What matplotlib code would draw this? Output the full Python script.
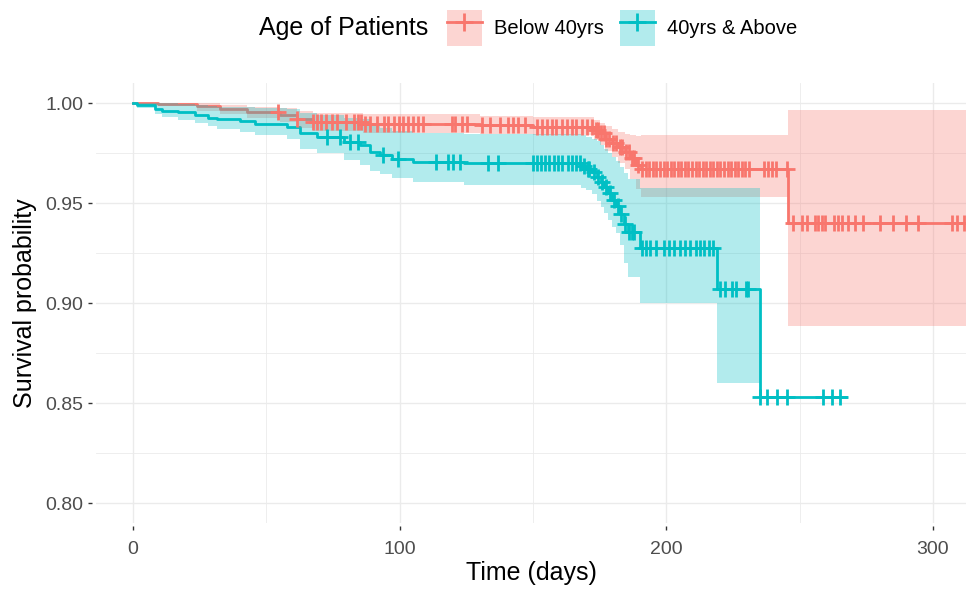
import numpy as np
import matplotlib
matplotlib.use("Agg")
import matplotlib.pyplot as plt
from matplotlib.patches import Patch
from matplotlib.lines import Line2D
from matplotlib.legend_handler import HandlerTuple

plt.rcParams['font.family'] = ['Liberation Sans', 'DejaVu Sans']

# ---- data (Kaplan-Meier steps) ----
# Below 40yrs
red_t = [0, 9.4, 23.9, 32.6, 42.6, 55, 61.4, 67.6, 86.3, 130, 150, 173, 175, 177,
         179.5, 182, 184.5, 186.5, 188.5, 190.5, 245.7]
red_s = [1.0, 0.9996, 0.9983, 0.9971, 0.9954, 0.9939, 0.9921, 0.9905, 0.9897, 0.9890,
         0.9882, 0.9866, 0.9848, 0.9822, 0.9800, 0.9778, 0.9755, 0.9725, 0.9690, 0.9672, 0.9400]
red_up = [1.0, 1.0, 0.9998, 0.9992, 0.9982, 0.9975, 0.9960, 0.9952, 0.9946, 0.9935,
          0.9932, 0.9915, 0.9900, 0.9885, 0.9870, 0.9855, 0.9845, 0.9840, 0.9835, 0.9838, 0.9965]
red_lo = [1.0, 0.9985, 0.9962, 0.9945, 0.9925, 0.9905, 0.9875, 0.9858, 0.9850, 0.9845,
          0.9838, 0.9815, 0.9790, 0.9760, 0.9730, 0.9700, 0.9670, 0.9620, 0.9570, 0.9530, 0.8887]
red_end = 320
red_cens = [54.4, 61.4, 67.6, 68.9, 70.6, 72.5, 74.6, 76.6, 80, 83, 84.4, 85.6, 86.9, 88.9,
            91.4, 94, 95.6, 98, 99.9, 101.3, 103.2, 105, 106.9, 108.8, 119.5, 120.7, 123.2,
            125.1, 130.8, 133.9, 137.6, 140.7, 142.6, 144.5, 147, 151.4, 153.2, 155.1, 157,
            158.8, 160.7, 162.6, 164.5, 166.3, 168.2, 170.1, 172, 173.5, 174.5, 175.5, 176.5,
            177.5, 178.5, 180, 181, 182.5, 183.5, 185, 186, 187, 188, 189.5,
            191, 192.3, 193.6, 195, 196.3, 197.6, 199, 200.3, 201.6, 203, 204.3, 205.6, 207,
            208.3, 209.6, 211, 212.3, 213.6, 215, 216.3, 217.6, 219, 220.3, 221.6, 223, 224.3,
            225.6, 227, 228.3, 229.6, 231, 236.5, 238, 239.5, 241,
            245.2, 247.5, 251, 252.7, 255.7, 256.8, 258.4, 259.5, 263, 264.3, 266, 268, 270.7,
            273.7, 280, 285, 290, 294.4, 307, 309, 311.5]

# 40yrs & Above
teal_t = [0, 1.4, 8.2, 10.8, 17, 23.2, 28.2, 31.4, 40, 45.7, 57.6, 62.6, 69, 79, 85, 89,
          92.6, 97, 105, 124, 168, 170, 172, 174, 175.5, 176.5, 178, 179.5, 181, 182.5, 184,
          185.5, 190, 219, 235]
teal_s = [1.0, 0.9992, 0.9971, 0.9962, 0.9954, 0.9941, 0.9926, 0.9918, 0.9908, 0.9896,
          0.9879, 0.9849, 0.9830, 0.9805, 0.9788, 0.9756, 0.9738, 0.9718, 0.9706, 0.9698,
          0.9685, 0.9672, 0.9655, 0.9632, 0.9605, 0.9580, 0.9548, 0.9515, 0.9485, 0.9445,
          0.9395, 0.9355, 0.9273, 0.9068, 0.8528]
# band stops at the last drop (235 days)
teal_up = [1.0, 1.0, 1.0, 0.9998, 0.9995, 0.999, 0.9985, 0.9982, 0.998, 0.9975, 0.997,
           0.995, 0.994, 0.9925, 0.992, 0.989, 0.9875, 0.986, 0.9852, 0.9845, 0.984, 0.9832,
           0.982, 0.981, 0.979, 0.977, 0.975, 0.973, 0.971, 0.968, 0.965, 0.962, 0.9575, 0.9575]
teal_lo = [1.0, 0.9975, 0.9945, 0.993, 0.9915, 0.990, 0.9885, 0.9868, 0.9854, 0.984, 0.982,
           0.977, 0.975, 0.9715, 0.969, 0.966, 0.9645, 0.9625, 0.9605, 0.9588, 0.9575, 0.9565,
           0.9545, 0.951, 0.948, 0.945, 0.9415, 0.938, 0.935, 0.929, 0.920, 0.913, 0.900, 0.860]
teal_end = 267.5
teal_cens = [72.6, 77.6, 81.4, 84.4, 93.7, 99.4, 113.8, 118, 120, 122.6, 133, 137,
             150, 151.5, 153, 154.5, 156, 158, 159.5, 161, 163, 164.5, 166, 167.5, 169,
             170.5, 171, 173, 174.5, 176, 177.5, 179, 180.5, 182, 183, 184.5, 186, 187, 188,
             191, 192.5, 194, 196, 199, 201, 203, 205, 207, 209, 211, 212.5, 214, 216, 217.5,
             220, 222, 224.5, 226.3, 229.7, 230.6,
             235.2, 237.6, 241.4, 245.1, 258.7, 262, 265]

groups = ["Below 40yrs", "40yrs & Above"]
colors = ["#F8766D", "#00BFC4"]

x_ticks = [0, 100, 200, 300]
y_ticks = [0.80, 0.85, 0.90, 0.95, 1.00]


def value_at(times, surv, pts):
    idx = np.searchsorted(times, pts, side="right") - 1
    return np.asarray(surv)[idx]


fig = plt.figure(figsize=(9.66, 5.92), dpi=100)
ax = fig.add_axes([96 / 966, (592 - 523) / 592, (966 - 96) / 966, (523 - 83) / 592])

series = [
    (red_t, red_s, red_lo, red_up, red_end, red_cens),
    (teal_t, teal_s, teal_lo, teal_up, teal_end, teal_cens),
]

# step lines first, then the bands, then censoring marks (ggplot layer order)
for (t, s, lo, up, end, cens), col in zip(series, colors):
    ax.step(t + [end], s + [s[-1]], where="post", color=col, lw=2.0, zorder=2)

for (t, s, lo, up, end, cens), col in zip(series, colors):
    n = len(lo)
    bx = t[:n] + [t[n] if n < len(t) else end]
    ax.fill_between(bx, lo + [lo[-1]], up + [up[-1]], step="post", color=col,
                    alpha=0.3, lw=0, zorder=3)

for (t, s, lo, up, end, cens), col in zip(series, colors):
    ax.plot(cens, value_at(t, s, cens), ls="none", marker="+", ms=11, mew=2.0,
            color=col, zorder=4)

ax.set_xlim(-13.9, 312.4)
ax.set_ylim(0.79, 1.01)
ax.set_xticks(x_ticks)
ax.set_xticklabels([str(v) for v in x_ticks])
ax.set_yticks(y_ticks)
ax.set_yticklabels([f"{v:.2f}" for v in y_ticks])
ax.set_xticks([50, 150, 250], minor=True)
ax.set_yticks([0.825, 0.875, 0.925, 0.975], minor=True)

ax.grid(which="major", color="#EBEBEB", lw=1.0)
ax.grid(which="minor", color="#EBEBEB", lw=0.6)
ax.set_axisbelow(True)
for side in ["top", "right", "left", "bottom"]:
    ax.spines[side].set_visible(False)
ax.spines["bottom"].set_position(("outward", 2))
ax.spines["left"].set_position(("outward", 3))
ax.tick_params(which="major", length=3, width=1, color="#333333",
               labelcolor="#4D4D4D", labelsize=14, pad=8)
ax.tick_params(axis="y", pad=3)
ax.tick_params(which="minor", length=0)

ax.set_xlabel("Time (days)", fontsize=18, color="black", labelpad=2)
ax.set_ylabel("Survival probability", fontsize=18, color="black", labelpad=6)

# legend along the top
handles = [(Patch(facecolor=c, alpha=0.3, lw=0),
            Line2D([], [], color=c, lw=2, marker="+", ms=13, mew=2)) for c in colors]
fig.legend(handles, groups, handler_map={tuple: HandlerTuple(ndivide=1, pad=0)},
           loc="center", bbox_to_anchor=(622 / 966, 1 - 28 / 592), ncol=2, frameon=False,
           fontsize=14.5, handlelength=1.75, handleheight=2.3, handletextpad=0.6,
           columnspacing=0.8, borderpad=0)
fig.text(428 / 966, 1 - 28 / 592, "Age of Patients", ha="right", va="center", fontsize=18)

fig.savefig("out.png", dpi=100)
